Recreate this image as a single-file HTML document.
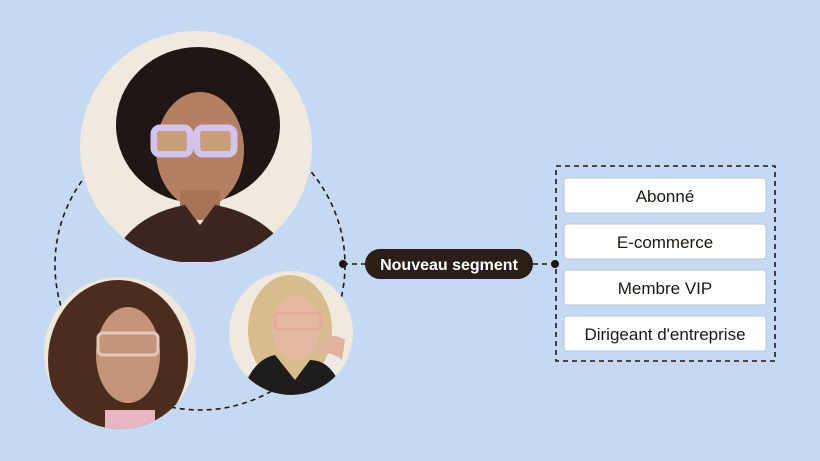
<!DOCTYPE html>
<html><head><meta charset="utf-8"><style>
html,body{margin:0;padding:0;background:#c5daf2;}
body{width:820px;height:461px;overflow:hidden;position:relative;font-family:"Liberation Sans",sans-serif;}
</style></head><body>
<svg width="820" height="461" viewBox="0 0 820 461" xmlns="http://www.w3.org/2000/svg" style="position:absolute;left:0;top:0">
<defs>
<clipPath id="c1"><circle cx="196" cy="147" r="116"/></clipPath>
<clipPath id="c2"><circle cx="120" cy="353" r="76"/></clipPath>
<clipPath id="c3"><circle cx="291" cy="333" r="62"/></clipPath>
</defs>
<rect width="820" height="461" fill="#c5daf2"/>
<circle cx="200" cy="265" r="145" fill="none" stroke="#1c1712" stroke-width="1.6" stroke-dasharray="5 4"/>
<!-- big -->
<g clip-path="url(#c1)">
<rect x="70" y="20" width="260" height="260" fill="#efe9df"/>
<ellipse cx="198" cy="125" rx="82" ry="78" fill="#1e1713"/>
<ellipse cx="200" cy="150" rx="44" ry="58" fill="#b58062"/>
<rect x="180" y="190" width="40" height="30" fill="#a87457"/>
<path d="M110 262 Q130 215 185 205 L200 225 L215 205 Q270 215 295 262 Z" fill="#3c2420"/>
<rect x="154" y="128" width="36" height="26" rx="6" fill="none" stroke="#d4c4ec" stroke-width="7"/>
<rect x="197" y="128" width="37" height="26" rx="6" fill="none" stroke="#d4c4ec" stroke-width="7"/>
<rect x="158" y="131" width="28" height="20" fill="#c99f7a"/>
<rect x="201" y="131" width="29" height="20" fill="#c99f7a"/>
</g>
<!-- bottom-left -->
<g clip-path="url(#c2)">
<rect x="40" y="270" width="160" height="170" fill="#efe7dc"/>
<ellipse cx="118" cy="360" rx="70" ry="80" fill="#4a2d1c"/>
<ellipse cx="128" cy="355" rx="32" ry="48" fill="#c4957a"/>
<rect x="98" y="333" width="60" height="22" rx="5" fill="none" stroke="#e2c9b8" stroke-width="3"/>
<rect x="105" y="410" width="50" height="25" fill="#e6b7c0"/>
</g>
<!-- small -->
<g clip-path="url(#c3)">
<rect x="225" y="265" width="135" height="135" fill="#efe9e0"/>
<ellipse cx="290" cy="330" rx="42" ry="55" fill="#d8bd8c"/>
<ellipse cx="296" cy="328" rx="24" ry="32" fill="#e3b9a0"/>
<rect x="275" y="313" width="46" height="16" rx="4" fill="none" stroke="#e8a99c" stroke-width="2.5"/>
<path d="M240 400 Q250 360 275 355 L295 380 L310 360 Q335 360 345 400 Z" fill="#1f1c1c"/>
<path d="M315 345 Q330 330 345 340 L342 360 Q330 350 320 355 Z" fill="#e0b49c"/>
</g>
<!-- connectors -->
<line x1="343" y1="264" x2="365" y2="264" stroke="#1c1712" stroke-width="1.6" stroke-dasharray="5 4"/>
<line x1="533" y1="264" x2="555" y2="264" stroke="#1c1712" stroke-width="1.6" stroke-dasharray="5 4"/>
<circle cx="343" cy="264" r="4" fill="#1c1712"/>
<circle cx="555" cy="264" r="4" fill="#1c1712"/>
<rect x="365" y="249" width="168" height="30" rx="15" fill="#2a1e17"/>
<text x="449" y="270" text-anchor="middle" font-family="Liberation Sans, sans-serif" font-weight="bold" font-size="16" fill="#fff">Nouveau segment</text>
<rect x="556" y="166" width="219" height="195" fill="none" stroke="#1c1712" stroke-width="1.6" stroke-dasharray="5 4"/>
<g font-family="Liberation Sans, sans-serif" font-size="17" fill="#1c1712" text-anchor="middle">
<rect x="564" y="178" width="202" height="35" rx="3" fill="#fff" stroke="#b8c6d8"/>
<text x="665" y="202">Abonné</text>
<rect x="564" y="224" width="202" height="35" rx="3" fill="#fff" stroke="#b8c6d8"/>
<text x="665" y="248">E-commerce</text>
<rect x="564" y="270" width="202" height="35" rx="3" fill="#fff" stroke="#b8c6d8"/>
<text x="665" y="294">Membre VIP</text>
<rect x="564" y="316" width="202" height="35" rx="3" fill="#fff" stroke="#b8c6d8"/>
<text x="665" y="340">Dirigeant d'entreprise</text>
</g>
</svg>
</body></html>
